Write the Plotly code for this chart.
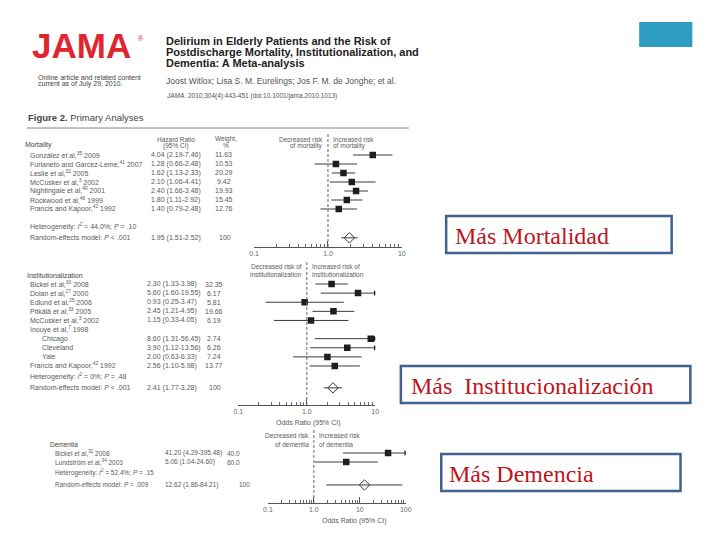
import plotly.graph_objects as go

W, H = 720, 540


def px(x):
    return x / W


def py(y):
    return 1 - y / H


# ---------------- data ----------------
mort_labels = ["González et al,<sup>35</sup> 2009", "Furlaneto and Garcez-Leme,<sup>41</sup> 2007",
               "Leslie et al,<sup>32</sup> 2005", "McCusker et al,<sup>3</sup> 2002",
               "Nightingale et al,<sup>40</sup> 2001", "Rockwood et al,<sup>46</sup> 1999",
               "Francis and Kapoor,<sup>42</sup> 1992"]
mort_hr = [4.04, 1.28, 1.62, 2.10, 2.40, 1.80, 1.40]
mort_lo = [2.19, 0.66, 1.13, 1.06, 1.66, 1.11, 0.79]
mort_hi = [7.46, 2.48, 2.33, 4.41, 3.48, 2.92, 2.48]
mort_w = ["11.63", "10.53", "20.29", "9.42", "19.93", "15.45", "12.76"]
mort_pooled = [1.95, 1.51, 2.52]
mort_het = "Heterogeneity: <i>I</i><sup>2</sup> = 44.0%; <i>P</i> = .10"
mort_model = "Random-effects model: <i>P</i> < .001"

inst_labels = ["Bickel et al,<sup>30</sup> 2008", "Dolan et al,<sup>27</sup> 2000",
               "Edlund et al,<sup>25</sup> 2006", "Pitkälä et al,<sup>33</sup> 2005",
               "McCusker et al,<sup>3</sup> 2002", "Inouye et al,<sup>7</sup> 1998",
               "Chicago", "Cleveland", "Yale", "Francis and Kapoor,<sup>42</sup> 1992"]
inst_indent = [0, 0, 0, 0, 0, 0, 1, 1, 1, 0]
inst_hr = [2.30, 5.60, 0.93, 2.45, 1.15, None, 8.60, 3.90, 2.00, 2.56]
inst_lo = [1.33, 1.60, 0.25, 1.21, 0.33, None, 1.31, 1.12, 0.63, 1.10]
inst_hi = [3.98, 19.55, 3.47, 4.95, 4.05, None, 56.45, 13.56, 6.33, 5.98]
inst_w = ["32.35", "6.17", "5.81", "19.66", "6.19", "", "2.74", "6.26", "7.24", "13.77"]
inst_pooled = [2.41, 1.77, 3.28]
inst_het = "Heterogeneity: <i>I</i><sup>2</sup> = 0%; <i>P</i> = .48"
inst_model = "Random-effects model: <i>P</i> < .001"

dem_labels = ["Bickel et al,<sup>32</sup> 2008", "Lundström et al,<sup>34</sup> 2003"]
dem_hr = [41.20, 5.06]
dem_lo = [4.29, 1.04]
dem_hi = [395.48, 24.60]
dem_w = ["40.0", "60.0"]
dem_pooled = [12.62, 1.86, 84.21]
dem_het = "Heterogeneity: <i>I</i><sup>2</sup> = 52.4%; <i>P</i> = .15"
dem_model = "Random-effects model: <i>P</i> = .009"

tick_vals = [0.1, 1, 10, 100]
tick_text = ["0.1", "1.0", "10", "100"]

FONT = "Liberation Sans, Arial, sans-serif"
TXT = "#5a5a5a"

fig = go.Figure()
annotations = []
shapes = []


def ann(text, x, y, yref="paper", size=7, color=TXT, xanchor="left", yanchor="middle",
        family=FONT):
    annotations.append(dict(text=text, x=x, y=y, xref="paper", yref=yref, showarrow=False,
                            xanchor=xanchor, yanchor=yanchor, borderpad=0,
                            font=dict(size=size, color=color, family=family)))


def panel(n, cfg, labels, hr, lo, hi, w, pooled, het, model, indent=None):
    yref = "y" if n == 1 else f"y{n}"
    xref = "x" if n == 1 else f"x{n}"
    fs = cfg["fs"]
    row0, step = cfg["row0"], cfg["step"]
    bottom = (cfg["axis_px"] - row0) / step
    top = (cfg["top_px"] - row0) / step
    xmax = cfg["xrange"][1]
    xs, ys = [], []
    mx, my = [], []
    ax_, ay_ = [], []
    for i, (h, l, u) in enumerate(zip(hr, lo, hi)):
        if h is None:
            continue
        xs += [l, u, None]
        ys += [i, i, None]
        mx.append(h)
        my.append(i)
        if u > 10 ** xmax:
            ax_.append(10 ** xmax)
            ay_.append(i)
    pidx = cfg["pooled_idx"]
    xs += [pooled[1], pooled[2], None]
    ys += [pidx, pidx, None]
    fig.add_trace(go.Scatter(x=xs, y=ys, mode="lines", xaxis=xref, yaxis=yref,
                             line=dict(color="#3a3a3a", width=1), hoverinfo="skip",
                             showlegend=False))
    fig.add_trace(go.Scatter(x=mx, y=my, mode="markers", xaxis=xref, yaxis=yref,
                             marker=dict(symbol="square", size=6.5, color="#1e1e1e"),
                             showlegend=False))
    if ax_:
        fig.add_trace(go.Scatter(x=ax_, y=ay_, mode="markers", xaxis=xref, yaxis=yref,
                                 marker=dict(symbol="triangle-right", size=5, color="#1e1e1e"),
                                 showlegend=False))
    fig.add_trace(go.Scatter(x=[pooled[0]], y=[pidx], mode="markers", xaxis=xref, yaxis=yref,
                             marker=dict(symbol="diamond-open", size=8, color="#3a3a3a",
                                         line=dict(width=1)),
                             showlegend=False))
    # table text
    for i, lab in enumerate(labels):
        ind = indent[i] if indent else 0
        ann(lab, px(cfg["lab_x"] + 13 * ind), i, yref, size=fs)
        if hr[i] is not None:
            ann(f"{hr[i]:.2f} ({lo[i]:.2f}-{hi[i]:.2f})", px(cfg["hr_x"]), i, yref, size=fs)
            ann(w[i], px(cfg["w_x"]), i, yref, xanchor="center", size=fs)
    ann(het, px(cfg["lab_x"]), cfg["het_idx"], yref, size=fs)
    ann(model, px(cfg["lab_x"]), pidx, yref, size=fs)
    ann(f"{pooled[0]:.2f} ({pooled[1]:.2f}-{pooled[2]:.2f})", px(cfg["hr_x"]), pidx, yref, size=fs)
    ann("100", px(cfg["w100_x"]), pidx, yref, xanchor="center", size=fs)
    ann(cfg["title"], px(cfg["title_x"]), cfg["title_idx"], yref, color="#444", size=fs)
    # risk headers
    xone = cfg["x0"] + (cfg["x1"] - cfg["x0"]) * (0 - cfg["xrange"][0]) / (cfg["xrange"][1] - cfg["xrange"][0])
    for k, (dl, il) in enumerate(zip(cfg["dec"], cfg["inc"])):
        yy = cfg["hdr_idx"][k]
        ann(dl, px(xone - 4), yy, yref, xanchor="right", size=6.5)
        ann(il, px(xone + 4), yy, yref, xanchor="left", size=6.5)
    shapes.append(dict(type="line", xref=xref, yref=f"{yref} domain", x0=1, x1=1, y0=0, y1=1,
                       line=dict(color="#666", width=1, dash="3px,2px")))
    fig.update_layout(**{
        ("xaxis" if n == 1 else f"xaxis{n}"): dict(
            type="log", domain=[px(cfg["x0"]), px(cfg["x1"])], range=list(cfg["xrange"]),
            anchor=yref, showline=True, linecolor="#555", linewidth=1, showgrid=False,
            zeroline=False, tickvals=tick_vals, ticktext=tick_text, ticks="inside",
            ticklen=6, tickcolor="#555", tickfont=dict(size=7, color="#666", family=FONT),
            minor=dict(ticks="inside", ticklen=3, tickcolor="#666", dtick="D1", showgrid=False),
            fixedrange=True),
        ("yaxis" if n == 1 else f"yaxis{n}"): dict(
            domain=[py(cfg["axis_px"]), py(cfg["top_px"])], range=[bottom, top],
            visible=False, fixedrange=True),
    })


mort_cfg = dict(row0=155, step=9, axis_px=247, top_px=133, x0=253, x1=403, xrange=(-1, 1),
                pooled_idx=9.2, het_idx=8, lab_x=24, hr_x=147, w_x=222, w100_x=223,
                title="Mortality", title_x=19, title_idx=-1.1, fs=7,
                dec=["Decreased risk", "of mortality"], inc=["Increased risk", "of mortality"],
                hdr_idx=[-1.75, -1.05])
inst_cfg = dict(row0=284, step=9.11, axis_px=405, top_px=262, x0=237, x1=376, xrange=(-1, 1),
                pooled_idx=11.4, het_idx=10.2, lab_x=24, hr_x=143, w_x=212, w100_x=213,
                title="Institutionalization", title_x=21, title_idx=-0.9, fs=7,
                dec=["Decreased risk of", "institutionalization"],
                inc=["Increased risk of", "institutionalization"],
                hdr_idx=[-1.9, -1.0])
dem_cfg = dict(row0=453, step=9, axis_px=503, top_px=430, x0=267, x1=407, xrange=(-1, 2),
               pooled_idx=3.55, het_idx=2.2, lab_x=50, hr_x=161, w_x=232, w100_x=243,
               title="Dementia", title_x=45, title_idx=-1, fs=6.5,
               dec=["Decreased risk", "of dementia"], inc=["Increased risk", "of dementia"],
               hdr_idx=[-2, -1])

panel(1, mort_cfg, mort_labels, mort_hr, mort_lo, mort_hi, mort_w, mort_pooled, mort_het, mort_model)
panel(2, inst_cfg, inst_labels, inst_hr, inst_lo, inst_hi, inst_w, inst_pooled, inst_het, inst_model,
      indent=inst_indent)
panel(3, dem_cfg, dem_labels, dem_hr, dem_lo, dem_hi, dem_w, dem_pooled, dem_het, dem_model)

# column headers (mortality)
ann("Hazard Ratio", px(174), -1.75, "y", xanchor="center", size=6.5)
ann("(95% CI)", px(174), -1.05, "y", xanchor="center", size=6.5)
ann("Weight,", px(224), -1.75, "y", xanchor="center", size=6.5)
ann("%", px(224), -1.05, "y", xanchor="center", size=6.5)

# x axis titles
ann("Odds Ratio (95% CI)", px(308), py(423), size=7, xanchor="center")
ann("Odds Ratio (95% CI)", px(355), py(521), size=7, xanchor="center")

# ---------------- header of the slide ----------------
ann("<b>JAMA</b>", px(26), py(45), size=35, color="#e1252f", family="Liberation Sans, Arial")
ann("®", px(134), py(38), size=7, color="#e1252f")
ann("Online article and related content", px(32), py(77), size=7, color="#444")
ann("current as of July 29, 2010.", px(32), py(84), size=7, color="#444")
ann("<b>Delirium in Elderly Patients and the Risk of</b>", px(162), py(41), size=11, color="#222")
ann("<b>Postdischarge Mortality, Institutionalization, and</b>", px(162), py(52), size=11, color="#222")
ann("<b>Dementia: A Meta-analysis</b>", px(162), py(63), size=11, color="#222")
ann("Joost Witlox; Lisa S. M. Eurelings; Jos F. M. de Jonghe; et al.", px(162), py(81), size=8.5,
    color="#555")
ann("<i>JAMA</i>. 2010;304(4):443-451 (doi:10.1001/jama.2010.1013)", px(162), py(96), size=6.5,
    color="#555")
ann("<b>Figure 2.</b> Primary Analyses", px(22), py(117), size=9.5, color="#444")
shapes.append(dict(type="line", xref="paper", yref="paper", x0=px(22), x1=px(410), y0=py(128),
                   y1=py(128), line=dict(color="#888", width=1)))

# teal block
shapes.append(dict(type="rect", xref="paper", yref="paper", x0=px(644), x1=px(698), y0=py(47),
                   y1=py(22), fillcolor="#2e9dc1", line=dict(width=0)))

# Spanish callout boxes
boxes = [("Más Mortalidad", 448, 677, 216, 253, 456),
         ("Más  Institucionalización", 402, 696, 366, 403, 411),
         ("Más Demencia", 443, 686, 454, 491, 450)]
for text, bx0, bx1, by0, by1, tx in boxes:
    shapes.append(dict(type="rect", xref="paper", yref="paper", x0=px(bx0), x1=px(bx1),
                       y0=py(by1), y1=py(by0), line=dict(color="#41618f", width=2.5),
                       fillcolor="rgba(0,0,0,0)"))
    ann(text.replace("  ", "&nbsp; "), px(tx), py((by0 + by1) / 2 + 1), size=24, color="#c0141c",
        family="Liberation Serif, Times New Roman, serif")

fig.update_layout(width=W, height=H, margin=dict(l=0, r=0, t=0, b=0),
                  paper_bgcolor="white", plot_bgcolor="rgba(0,0,0,0)",
                  annotations=annotations, shapes=shapes, showlegend=False)

fig.write_html("out.html", config={"displayModeBar": False},
               post_script="document.body.style.margin='0';"
                           "document.documentElement.style.overflow='hidden';")
